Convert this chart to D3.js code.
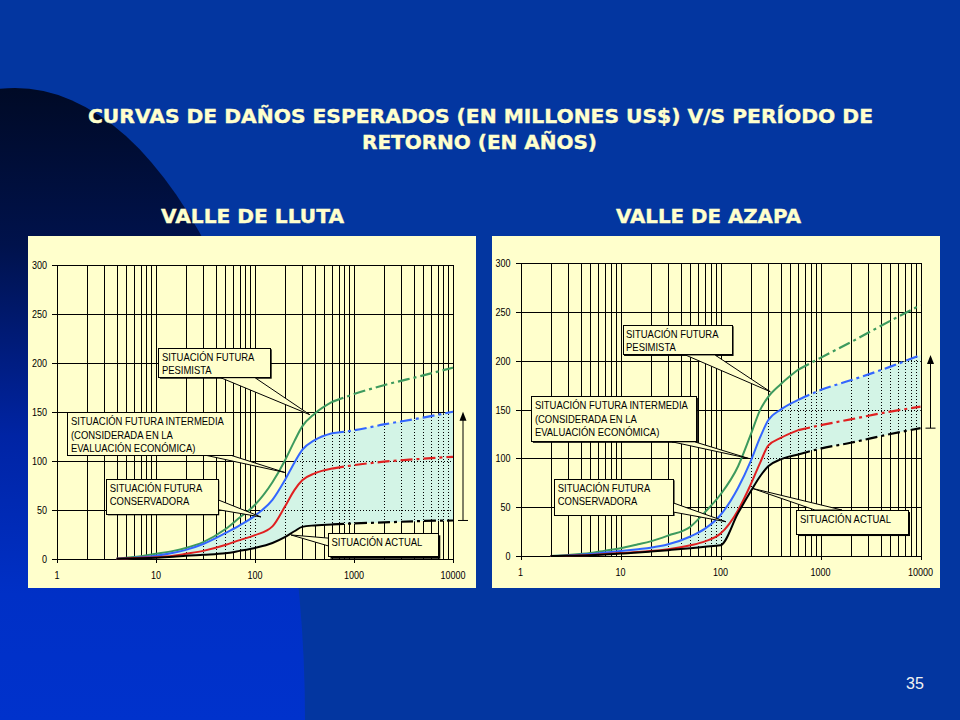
<!DOCTYPE html>
<html><head><meta charset="utf-8">
<script src="https://cdn.jsdelivr.net/npm/d3@7"></script>
<style>html,body{margin:0;padding:0;background:#0336a0;} svg{display:block;}</style>
</head><body><svg id="c" width="960" height="720"></svg>
<script>
// ---------------- DATA ----------------
const titleLines = ["CURVAS DE DAÑOS ESPERADOS (EN MILLONES US$) V/S PERÍODO DE", "RETORNO (EN AÑOS)"];
const chartTitles = ["VALLE DE LLUTA", "VALLE DE AZAPA"];
const pageNumber = "35";
const xTickValues = [1, 10, 100, 1000, 10000];
const xTickLabels = ["1", "10", "100", "1000", "10000"];
const yTickValues = [0, 50, 100, 150, 200, 250, 300];

// Valle de Lluta: return period (years) and expected damage (MUS$)
const llutaT            = [4, 5, 7, 10, 15, 20, 30, 50, 70, 100, 150, 200, 250, 300, 400, 600, 1000, 2000, 5000, 10000];
const llutaActual       = [0, 0.2, 0.5, 1, 2, 3, 4, 5.5, 8, 11, 16, 22, 28, 32.5, 34, 35, 36, 37, 38.5, 39];
const llutaConservadora = [0, 0.3, 1, 1.5, 3, 5, 8, 14, 19, 24, 33, 53, 70, 80, 87, 92, 95.5, 99, 102, 104];
const llutaIntermedia   = [0, 0.5, 1.5, 3, 6, 9, 15, 26, 34, 44, 60, 80, 98, 111, 121, 128, 131, 137, 144, 150];
const llutaPesimista    = [0, 1, 2.5, 5, 8, 11, 17, 30, 42, 55, 78, 100, 120, 135, 148, 160, 168, 177, 187, 195];

// Valle de Azapa
const azapaT            = [2, 3, 5, 7, 10, 15, 20, 30, 50, 70, 100, 150, 200, 250, 300, 400, 600, 1000, 2000, 5000, 10000];
const azapaActual       = [0, 0.2, 0.8, 1.5, 2.5, 3.5, 4.5, 6, 8, 9.5, 11, 44, 66, 82, 92, 99, 104, 110, 116, 125, 131];
const azapaConservadora = [0, 0.3, 1, 2, 3, 4, 5, 7, 11, 15, 23, 47, 73, 96, 113, 121, 129, 134, 140, 148, 153];
const azapaIntermedia   = [0, 0.5, 2, 3.5, 5, 7, 8.5, 12, 20, 28, 42, 70, 97, 122, 139, 150, 160, 170, 180, 194, 206];
const azapaPesimista    = [0, 1, 3, 5.5, 8, 12, 15, 21, 30, 45, 63, 92, 124, 150, 163, 176, 191, 203, 219, 241, 257];

const solidUntil = 600; // solid line up to this return period, dashed beyond

// annotation labels
const lblPesimista = ["SITUACIÓN FUTURA", "PESIMISTA"];
const lblIntermedia = ["SITUACIÓN FUTURA INTERMEDIA", "(CONSIDERADA EN LA", "EVALUACIÓN ECONÓMICA)"];
const lblConservadora = ["SITUACIÓN FUTURA", "CONSERVADORA"];
const lblActual = ["SITUACIÓN ACTUAL"];

// ---------------- LAYOUT ----------------
const charts = [
  {
    title: chartTitles[0], titleX: 253,
    T: llutaT,
    series: {actual: llutaActual, conservadora: llutaConservadora, intermedia: llutaIntermedia, pesimista: llutaPesimista},
    panel: {x: 28, y: 236, w: 448, h: 352},
    plot: {x0: 57, x1: 453, y0: 558.7, y1: 264.7},
    boxes: [
      {lines: lblPesimista, t0: 10.7, t1: 144, v0: 214.7, v1: 184.7, tip: [357, 147], base: [[45, 184.7], [100, 184.7]], sh: 1},
      {lines: lblIntermedia, t0: 1.29, t1: 60, v0: 149, v1: 105.8, tip: [200, 88], base: [[31, 105.8], [56, 105.8]], sh: 1},
      {lines: lblConservadora, t0: 3.18, t1: 42.5, v0: 81, v1: 45.3, tip: [115, 42.6], base: [[42.5, 60], [42.5, 50]], sh: 1},
      {lines: lblActual, t0: 552, t1: 7100, v0: 25.9, v1: 2.0, tip: [231, 24.2], base: [[552, 21], [552, 13]], sh: 2}
    ]
  },
  {
    title: chartTitles[1], titleX: 708,
    T: azapaT,
    series: {actual: azapaActual, conservadora: azapaConservadora, intermedia: azapaIntermedia, pesimista: azapaPesimista},
    panel: {x: 492, y: 236, w: 448, h: 352},
    plot: {x0: 520.5, x1: 920.5, y0: 556, y1: 263.2},
    boxes: [
      {lines: lblPesimista, t0: 10.6, t1: 132, v0: 236.4, v1: 206, tip: [315, 168.3], base: [[44.5, 206], [88, 206]], sh: 1},
      {lines: lblIntermedia, t0: 1.3, t1: 58, v0: 163, v1: 117, tip: [191, 100], base: [[32.7, 117], [55, 117]], sh: 1},
      {lines: lblConservadora, t0: 2.2, t1: 33.9, v0: 78.6, v1: 42, tip: [113.5, 35.1], base: [[33.9, 54.3], [33.9, 45]], sh: 1},
      {lines: lblActual, t0: 582, t1: 7500, v0: 47.1, v1: 22.5, tip: [206.5, 69.4], base: [[881, 47.1], [1640, 47.1]], sh: 2}
    ]
  }
];

const colors = {actual: "#000000", conservadora: "#e02020", intermedia: "#3366ff", pesimista: "#3d9a5e"};
const drawOrder = ["pesimista", "intermedia", "conservadora", "actual"];

// ---------------- DRAW ----------------
const svg = d3.select("#c");
const defs = svg.append("defs");

// background
svg.append("rect").attr("width", 960).attr("height", 720).attr("fill", "#0336a0");
const grad = defs.append("linearGradient").attr("id", "bgGrad").attr("gradientUnits", "userSpaceOnUse")
  .attr("x1", 0).attr("y1", 88).attr("x2", 0).attr("y2", 720);
grad.append("stop").attr("offset", 0).attr("stop-color", "#000a26");
grad.append("stop").attr("offset", 0.25).attr("stop-color", "#00124c");
grad.append("stop").attr("offset", 0.55).attr("stop-color", "#0024a4");
grad.append("stop").attr("offset", 0.8).attr("stop-color", "#0030c6");
grad.append("stop").attr("offset", 1).attr("stop-color", "#0032cc");
svg.append("ellipse").attr("cx", 15).attr("cy", 720).attr("rx", 290).attr("ry", 632).attr("fill", "url(#bgGrad)");

// titles
const titleFont = "'DejaVu Sans', 'Liberation Sans', sans-serif";
function titleText(x, y, len, size, txt) {
  svg.append("text").attr("x", x).attr("y", y).attr("textLength", len).attr("lengthAdjust", "spacingAndGlyphs")
    .attr("font-family", titleFont).attr("font-weight", "bold").attr("font-size", size)
    .attr("fill", "#ffffcc").attr("stroke", "#ffffcc").attr("stroke-width", 0.4).text(txt);
}
titleText(88, 123, 785, 20, titleLines[0]);
titleText(362, 149, 235, 20, titleLines[1]);
titleText(161, 223, 183, 20, chartTitles[0]);
titleText(616, 223, 185, 20, chartTitles[1]);

svg.append("text").attr("x", 915).attr("y", 689).attr("text-anchor", "middle")
  .attr("font-family", "'Liberation Sans', Arial, sans-serif").attr("font-size", 16).attr("fill", "#f2f2f2").text(pageNumber);

const tickFont = "'Liberation Sans', Arial, sans-serif";
function condense(sel, f) {
  sel.each(function () {
    const L = this.getComputedTextLength();
    d3.select(this).attr("textLength", L * f).attr("lengthAdjust", "spacingAndGlyphs");
  });
}

charts.forEach((ch, ci) => {
  const g = svg.append("g");

  g.append("rect").attr("x", ch.panel.x).attr("y", ch.panel.y).attr("width", ch.panel.w).attr("height", ch.panel.h).attr("fill", "#ffffcc");

  const X = d3.scaleLog().domain([1, 10000]).range([ch.plot.x0, ch.plot.x1]);
  const Y = d3.scaleLinear().domain([0, 300]).range([ch.plot.y0, ch.plot.y1]);

  // grid values
  const gridX = [];
  for (let k = 0; k < 4; k++) for (let m = 1; m <= 9; m++) gridX.push(m * Math.pow(10, k));
  gridX.push(10000);

  function drawGrid(sel, dashed) {
    const gg = sel.append("g").attr("stroke", "#000").attr("stroke-width", 1).attr("shape-rendering", "crispEdges");
    if (dashed) gg.attr("stroke-dasharray", "1,2");
    gg.selectAll("line.v").data(gridX).join("line")
      .attr("x1", d => Math.round(X(d)) + 0.5).attr("x2", d => Math.round(X(d)) + 0.5)
      .attr("y1", Y(0)).attr("y2", Y(300));
    gg.selectAll("line.h").data(yTickValues).join("line")
      .attr("x1", X(1)).attr("x2", X(10000))
      .attr("y1", d => Math.round(Y(d)) + 0.5).attr("y2", d => Math.round(Y(d)) + 0.5);
  }
  drawGrid(g, false);

  // axis ticks
  const ax = g.append("g").attr("stroke", "#000").attr("shape-rendering", "crispEdges");
  ax.selectAll("line.yt").data(yTickValues).join("line")
    .attr("x1", X(1) - 5).attr("x2", X(1)).attr("y1", d => Math.round(Y(d)) + 0.5).attr("y2", d => Math.round(Y(d)) + 0.5);
  ax.selectAll("line.xt").data(xTickValues).join("line")
    .attr("x1", d => Math.round(X(d)) + 0.5).attr("x2", d => Math.round(X(d)) + 0.5).attr("y1", Y(0)).attr("y2", Y(0) + 4);

  const yl = g.selectAll("text.yl").data(yTickValues).join("text")
    .attr("x", X(1) - 10).attr("y", d => Y(d) + 4).attr("text-anchor", "end")
    .attr("font-family", tickFont).attr("font-size", 11).attr("fill", "#000").text(d => d);
  condense(yl, 0.82);
  const xl = g.selectAll("text.xl").data(xTickValues).join("text")
    .attr("x", d => X(d)).attr("y", Y(0) + 20).attr("text-anchor", "middle")
    .attr("font-family", tickFont).attr("font-size", 11).attr("fill", "#000").text((d, i) => xTickLabels[i]);
  condense(xl, 0.82);

  // shaded band between actual and intermedia
  const band = ch.T.map((t, i) => [t, ch.series.actual[i], ch.series.intermedia[i]]);
  const area = d3.area().x(d => X(d[0])).y0(d => Y(d[1])).y1(d => Y(d[2])).curve(d3.curveMonotoneX);
  g.append("path").attr("d", area(band)).attr("fill", "#d3f4e6");
  const clipId = "band" + ci;
  defs.append("clipPath").attr("id", clipId).append("path").attr("d", area(band));
  drawGrid(g.append("g").attr("clip-path", `url(#${clipId})`), true);

  // curves
  const line = d3.line().x(d => X(d[0])).y(d => Y(d[1])).curve(d3.curveMonotoneX);
  drawOrder.forEach(key => {
    const pts = ch.T.map((t, i) => [t, ch.series[key][i]]);
    g.append("path").attr("d", line(pts.filter(p => p[0] <= solidUntil)))
      .attr("fill", "none").attr("stroke", colors[key]).attr("stroke-width", 2);
    g.append("path").attr("d", line(pts.filter(p => p[0] >= solidUntil)))
      .attr("fill", "none").attr("stroke", colors[key]).attr("stroke-width", 2.2).attr("stroke-dasharray", "12,4,3,4");
  });

  // range arrow from actual end to intermedia end
  const n = ch.T.length - 1;
  const ax2 = ch.plot.x1 + 10;
  const yBot = Y(ch.series.actual[n]), yTop = Y(ch.series.intermedia[n]);
  g.append("line").attr("x1", ax2).attr("x2", ax2).attr("y1", yBot).attr("y2", yTop + 6).attr("stroke", "#000").attr("stroke-width", 1);
  g.append("line").attr("x1", ax2 - 5).attr("x2", ax2 + 5).attr("y1", yBot).attr("y2", yBot).attr("stroke", "#000").attr("stroke-width", 1);
  g.append("path").attr("d", `M${ax2},${yTop} L${ax2 - 3.5},${yTop + 9} L${ax2 + 3.5},${yTop + 9} Z`).attr("fill", "#000");

  // callout boxes
  ch.boxes.forEach(b => {
    const x0 = X(b.t0), x1 = X(b.t1), y0 = Y(b.v0), y1 = Y(b.v1);
    const tip = [X(b.tip[0]), Y(b.tip[1])];
    const b1 = [X(b.base[0][0]), Y(b.base[0][1])], b2 = [X(b.base[1][0]), Y(b.base[1][1])];
    g.append("rect").attr("x", x0 + b.sh).attr("y", y0 + b.sh).attr("width", x1 - x0).attr("height", y1 - y0).attr("fill", "#000");
    g.append("path").attr("d", `M${b1[0]},${b1[1]} L${tip[0]},${tip[1]} L${b2[0]},${b2[1]} Z`)
      .attr("fill", "#ffffcc").attr("stroke", "#000").attr("stroke-width", 1);
    g.append("rect").attr("x", x0).attr("y", y0).attr("width", x1 - x0).attr("height", y1 - y0)
      .attr("fill", "#ffffcc").attr("stroke", "#000").attr("stroke-width", 1).attr("shape-rendering", "crispEdges");
    b.lines.forEach((t, i) => {
      const tx = g.append("text").attr("x", x0 + 3).attr("y", y0 + 12.5 + i * 13.5)
        .attr("font-family", tickFont).attr("font-size", 11).attr("fill", "#000").text(t);
      condense(tx, 0.86);
    });
  });
});
</script>
</body></html>
